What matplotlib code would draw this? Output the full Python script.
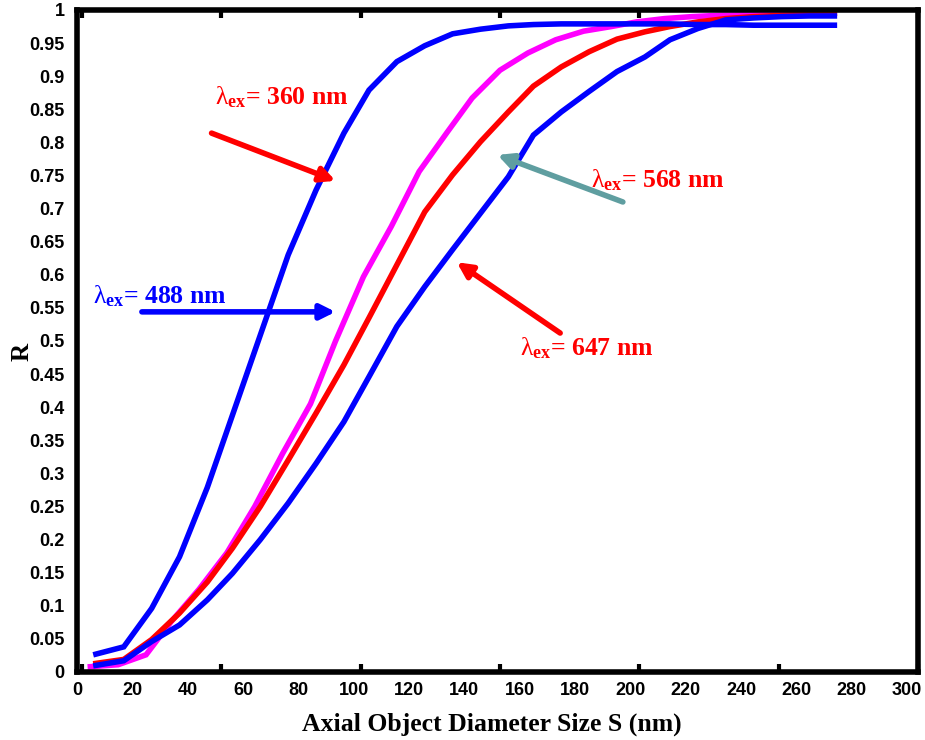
import numpy as np
import matplotlib
matplotlib.use('Agg')
import matplotlib.pyplot as plt

plt.rcParams['mathtext.fontset'] = 'custom'
plt.rcParams['mathtext.rm'] = 'Liberation Serif:bold'
plt.rcParams['mathtext.it'] = 'Liberation Serif'
plt.rcParams['mathtext.bf'] = 'Liberation Serif:bold'

# object size S (nm) where each curve was sampled
s_main = [5, 15, 25, 35, 45, 54, 64, 74, 84, 94, 103, 113, 123, 133,
          143, 153, 162, 172, 182, 192, 202, 211, 221, 231, 241, 251, 261, 270]
s_mag = [3, 13, 23, 32, 42, 52, 62, 72, 82, 91, 101, 111, 121, 131,
         140, 150, 160, 170, 180, 190, 199, 209, 219, 229, 239, 248, 258, 268]

r_fast = [0.027, 0.038, 0.096, 0.174, 0.279, 0.388, 0.509, 0.630, 0.728, 0.814,
          0.879, 0.922, 0.946, 0.964, 0.971, 0.976, 0.978, 0.979, 0.979, 0.979,
          0.979, 0.979, 0.978, 0.978, 0.977, 0.977, 0.977, 0.977]
r_mag = [0.008, 0.011, 0.026, 0.076, 0.125, 0.180, 0.250, 0.330, 0.405, 0.500,
         0.597, 0.673, 0.756, 0.815, 0.867, 0.909, 0.935, 0.955, 0.968, 0.975,
         0.982, 0.987, 0.990, 0.992, 0.993, 0.994, 0.995, 0.995]
r_red = [0.013, 0.019, 0.049, 0.089, 0.136, 0.187, 0.250, 0.320, 0.391, 0.464,
         0.535, 0.615, 0.695, 0.751, 0.801, 0.846, 0.885, 0.914, 0.937, 0.956,
         0.967, 0.975, 0.982, 0.987, 0.990, 0.992, 0.994, 0.995]
r_slow = [0.010, 0.017, 0.046, 0.071, 0.109, 0.149, 0.200, 0.255, 0.315, 0.378,
          0.446, 0.522, 0.582, 0.638, 0.693, 0.748, 0.811, 0.846, 0.877, 0.907,
          0.929, 0.955, 0.972, 0.985, 0.988, 0.990, 0.991, 0.991]

xlabels = ['0', '20', '40', '60', '80', '100', '120', '140', '160', '180',
           '200', '220', '240', '260', '280', '300']
ylabels = ['0', '0.05', '0.1', '0.15', '0.2', '0.25', '0.3', '0.35', '0.4', '0.45',
           '0.5', '0.55', '0.6', '0.65', '0.7', '0.75', '0.8', '0.85', '0.9', '0.95', '1']

fig = plt.figure(figsize=(9.25, 7.4), dpi=100)
ax = fig.add_axes([0.0832, 0.0919, 0.9092, 0.8946])

lw = 4
ax.plot(s_mag, r_mag, color='#ff00ff', lw=lw, solid_joinstyle='miter')
ax.plot(s_main, r_red, color='#ff0000', lw=lw, solid_joinstyle='miter')
ax.plot(s_main, r_slow, color='#0000ff', lw=lw, solid_joinstyle='miter')
ax.plot(s_main, r_fast, color='#0000ff', lw=lw, solid_joinstyle='miter')

ax.set_xlim(0, 300)
ax.set_ylim(0, 1)

# the printed x labels sit slightly left of the true scale in the original
xvals = np.array([float(v) for v in xlabels])
ax.set_xticks(xvals * 0.993 - 1.8)
ax.set_xticklabels(xlabels)
ax.set_yticks(np.arange(0, 1.0001, 0.05))
ax.set_yticklabels(ylabels)
ax.set_xticks(np.arange(0, 301, 50), minor=True)
ax.set_yticks(np.arange(0, 1.0001, 0.1), minor=True)
ax.tick_params(which='major', length=0)
ax.tick_params(axis='x', which='major', pad=7)
ax.tick_params(axis='y', which='major', pad=9)
ax.tick_params(which='minor', direction='in', length=6, width=3,
               top=True, right=True)
for lab in ax.get_xticklabels() + ax.get_yticklabels():
    lab.set_fontfamily('Liberation Sans')
    lab.set_fontweight('bold')
    lab.set_fontsize(13)

for sp in ax.spines.values():
    sp.set_linewidth(4)

ax.set_xlabel('Axial Object Diameter Size S (nm)', family='Liberation Serif',
              weight='bold', fontsize=18.5)
ax.xaxis.set_label_coords(0.493, -0.061)
ax.set_ylabel('R', family='Liberation Serif', weight='bold', fontsize=18)
ax.yaxis.set_label_coords(-0.052, 0.483)

tkw = dict(family='Liberation Serif', weight='bold', fontsize=18.5, va='center', ha='left')
ax.text(47.8, 0.869, r'$\lambda_{\mathrm{ex}}$= 360 nm', color='#ff0000', **tkw)
ax.text(3.8, 0.568, r'$\lambda_{\mathrm{ex}}$= 488 nm', color='#0000ff', **tkw)
ax.text(182.6, 0.743, r'$\lambda_{\mathrm{ex}}$= 568 nm', color='#ff0000', **tkw)
ax.text(157.2, 0.489, r'$\lambda_{\mathrm{ex}}$= 647 nm', color='#ff0000', **tkw)

def arrow(tail, tip, color):
    ax.annotate('', xy=tip, xytext=tail,
                arrowprops=dict(arrowstyle='-|>', color=color, lw=4,
                                mutation_scale=22, shrinkA=0, shrinkB=0))

arrow((46.5, 0.814), (91, 0.742), '#ff0000')
arrow((21.5, 0.544), (91, 0.544), '#0000ff')
arrow((194.1, 0.710), (149.1, 0.781), '#5f9ea0')
arrow((171.6, 0.512), (134.5, 0.619), '#ff0000')

fig.savefig('out.png', dpi=100)
